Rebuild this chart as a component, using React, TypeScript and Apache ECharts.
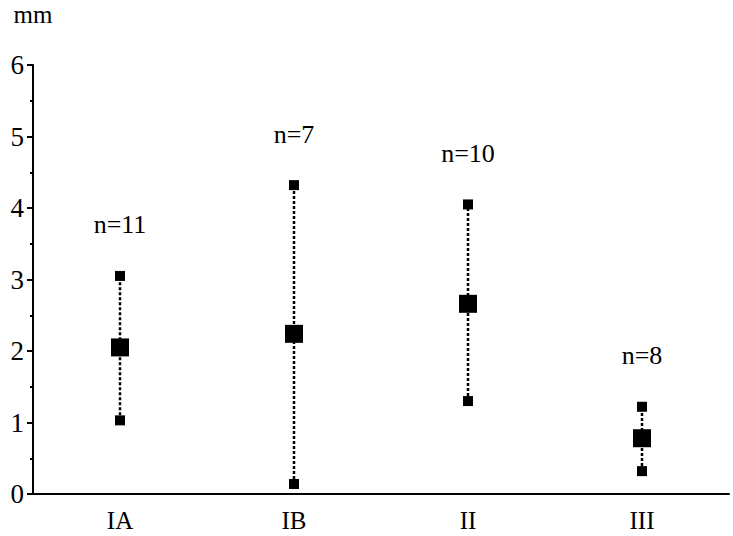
import React, { useEffect, useRef } from "react";
import * as echarts from "echarts";

const categories = ["IA", "IB", "II", "III"];
const lowValues = [1.03, 0.14, 1.3, 0.32];
const meanValues = [2.05, 2.24, 2.66, 0.78];
const highValues = [3.05, 4.32, 4.05, 1.22];
const nLabels = ["n=11", "n=7", "n=10", "n=8"];
const yTicks = [0, 1, 2, 3, 4, 5, 6];

const FONT = "'Liberation Serif', serif";

export default function App() {
  const ref = useRef<HTMLDivElement>(null);
  useEffect(() => {
    if (!ref.current) return;
    const chart = echarts.init(ref.current, null, { renderer: "svg" });
    chart.setOption({
      animation: false,
      backgroundColor: "#ffffff",
      grid: { left: 33, right: 4, top: 65, bottom: 42, containLabel: false },
      xAxis: {
        type: "category",
        data: categories,
        boundaryGap: true,
        axisLine: { lineStyle: { color: "#000", width: 2 } },
        axisTick: { alignWithLabel: true, length: 7, lineStyle: { color: "#000", width: 2 } },
        axisLabel: { color: "#000", fontFamily: FONT, fontSize: 25, margin: 14 },
        splitLine: { show: false },
      },
      yAxis: {
        type: "value",
        min: 0,
        max: 6,
        interval: 1,
        name: "mm",
        nameLocation: "end",
        nameGap: 38,
        nameTextStyle: { color: "#000", fontFamily: FONT, fontSize: 25, align: "center" },
        axisLine: { show: true, lineStyle: { color: "#000", width: 2 } },
        axisTick: { show: true, length: 6, lineStyle: { color: "#000", width: 2 } },
        minorTick: { show: true, splitNumber: 2, length: 3, lineStyle: { color: "#000", width: 2 } },
        axisLabel: {
          color: "#000",
          fontFamily: FONT,
          fontSize: 27,
          margin: 9,
          formatter: (v: number) => (yTicks.includes(v) ? String(v) : ""),
        },
        splitLine: { show: false },
      },
      series: [
        {
          type: "custom",
          renderItem: (params: any, api: any) => {
            const x = api.value(0);
            const lo = api.coord([x, api.value(1)]);
            const hi = api.coord([x, api.value(2)]);
            return {
              type: "line",
              shape: { x1: lo[0], y1: lo[1], x2: hi[0], y2: hi[1] },
              style: { stroke: "#000", lineWidth: 2.5, lineDash: [3, 2] },
            };
          },
          data: categories.map((c, i) => [i, lowValues[i], highValues[i]]),
          z: 1,
        },
        {
          type: "scatter",
          symbol: "rect",
          symbolSize: 10,
          itemStyle: { color: "#000", opacity: 1 },
          data: categories.map((c, i) => [i, lowValues[i]]),
          z: 2,
        },
        {
          type: "scatter",
          symbol: "rect",
          symbolSize: 10,
          itemStyle: { color: "#000", opacity: 1 },
          label: {
            show: true,
            position: "top",
            distance: 33,
            color: "#000",
            fontFamily: FONT,
            fontSize: 26,
            formatter: (p: any) => nLabels[p.dataIndex],
          },
          data: categories.map((c, i) => [i, highValues[i]]),
          z: 2,
        },
        {
          type: "scatter",
          symbol: "rect",
          symbolSize: 18,
          itemStyle: { color: "#000", opacity: 1 },
          data: categories.map((c, i) => [i, meanValues[i]]),
          z: 3,
        },
      ],
    });
    return () => chart.dispose();
  }, []);
  return <div ref={ref} style={{ width: 733, height: 536, position: "absolute", left: 0, top: 0 }} />;
}
